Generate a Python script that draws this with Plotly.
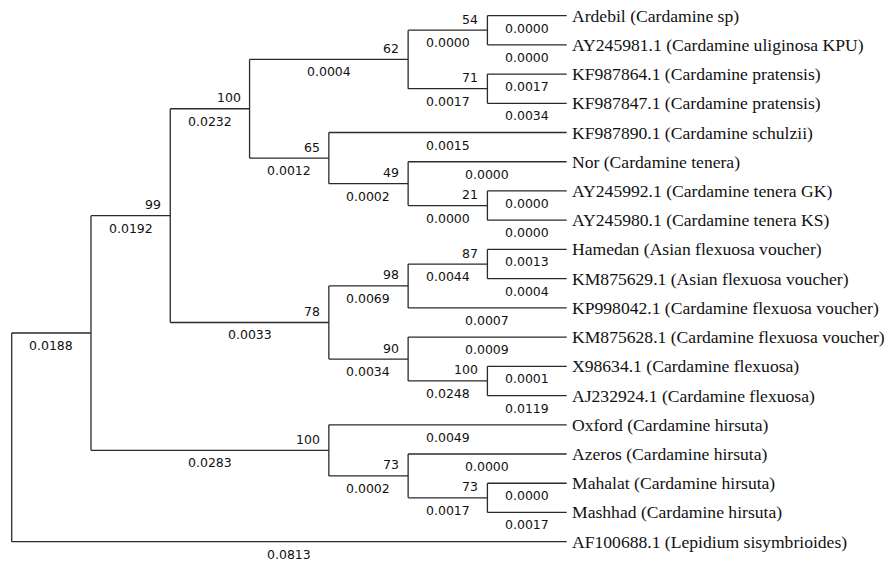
import plotly.graph_objects as go

# ---------------- data ----------------
leaves = [
    "Ardebil (Cardamine sp)",
    "AY245981.1 (Cardamine uliginosa KPU)",
    "KF987864.1 (Cardamine pratensis)",
    "KF987847.1 (Cardamine pratensis)",
    "KF987890.1 (Cardamine schulzii)",
    "Nor (Cardamine tenera)",
    "AY245992.1 (Cardamine tenera GK)",
    "AY245980.1 (Cardamine tenera KS)",
    "Hamedan (Asian flexuosa voucher)",
    "KM875629.1 (Asian flexuosa voucher)",
    "KP998042.1 (Cardamine flexuosa voucher)",
    "KM875628.1 (Cardamine flexuosa voucher)",
    "X98634.1 (Cardamine flexuosa)",
    "AJ232924.1 (Cardamine flexuosa)",
    "Oxford (Cardamine hirsuta)",
    "Azeros (Cardamine hirsuta)",
    "Mahalat (Cardamine hirsuta)",
    "Mashhad (Cardamine hirsuta)",
    "AF100688.1 (Lepidium sisymbrioides)",
]
leaf_lengths = [0.0000, 0.0000, 0.0017, 0.0034, 0.0015, 0.0000, 0.0000, 0.0000,
                0.0013, 0.0004, 0.0007, 0.0009, 0.0001, 0.0119, 0.0049, 0.0000,
                0.0000, 0.0017, 0.0813]

node_ids = ["root", "a", "b", "c", "d", "e", "f", "g", "h", "i",
            "j", "k", "l", "m", "n", "o", "p", "q"]
node_children = [
    ["a", 18], ["b", "o"], ["c", "j"], ["d", "g"], ["e", "f"], [0, 1], [2, 3],
    [4, "h"], [5, "i"], [6, 7], ["k", "m"], ["l", 10], [8, 9], [11, "n"],
    [12, 13], [14, "p"], [15, "q"], [16, 17],
]
node_support = [None, None, 99, 100, 62, 54, 71, 65, 49, 21,
                78, 98, 87, 90, 100, 100, 73, 73]
node_lengths = [None, 0.0188, 0.0192, 0.0232, 0.0004, 0.0000, 0.0017, 0.0012,
                0.0002, 0.0000, 0.0033, 0.0069, 0.0044, 0.0034, 0.0248, 0.0283,
                0.0002, 0.0017]

# ---------------- layout computation ----------------
idx = {n: i for i, n in enumerate(node_ids)}
height = {}
ypos = {}


def h_of(c):
    if isinstance(c, int):
        return 0
    if c in height:
        return height[c]
    height[c] = 1 + max(h_of(k) for k in node_children[idx[c]])
    return height[c]


def y_of(c):
    if isinstance(c, int):
        return float(c)
    if c in ypos:
        return ypos[c]
    ch = node_children[idx[c]]
    ypos[c] = (y_of(ch[0]) + y_of(ch[-1])) / 2.0
    return ypos[c]


H = h_of("root")


def x_of(c):
    return H - h_of(c)


lx, ly = [], []
annotations = []
small = dict(family="DejaVu Sans", size=12.5, color="#111")

for n in node_ids:
    xn, ch = x_of(n), node_children[idx[n]]
    # vertical connector
    lx += [xn, xn, None]
    ly += [y_of(ch[0]), y_of(ch[-1]), None]
    for c in ch:
        xc, yc = x_of(c), y_of(c)
        lx += [xn, xc, None]
        ly += [yc, yc, None]
        length = leaf_lengths[c] if isinstance(c, int) else node_lengths[idx[c]]
        annotations.append(dict(x=(xn + xc) / 2, y=yc, text=f"{length:.4f}",
                                showarrow=False, xanchor="center", yanchor="middle",
                                yshift=-12.5, font=small))
        if not isinstance(c, int) and node_support[idx[c]] is not None:
            annotations.append(dict(x=xc, y=yc, text=str(node_support[idx[c]]),
                                    showarrow=False, xanchor="right", yanchor="middle",
                                    xshift=-7, yshift=11, font=small))

for i, name in enumerate(leaves):
    annotations.append(dict(x=H, y=i, text=name, showarrow=False,
                            xanchor="left", yanchor="middle", xshift=3, yshift=0,
                            font=dict(family="Liberation Serif", size=17.6, color="#111")))

fig = go.Figure()
fig.add_trace(go.Scatter(x=lx, y=ly, mode="lines",
                         line=dict(color="#2a2a2a", width=1.3),
                         hoverinfo="skip", showlegend=False))

step_x = (566.7 - 11.7) / H
step_y = (541.7 - 15.6) / (len(leaves) - 1)
fig.update_layout(
    width=888, height=562, autosize=False,
    margin=dict(l=0, r=0, t=0, b=0),
    paper_bgcolor="white", plot_bgcolor="white",
    xaxis=dict(range=[-11.7 / step_x, (888 - 11.7) / step_x], visible=False, fixedrange=True),
    yaxis=dict(range=[(562 - 15.6) / step_y, -15.6 / step_y], visible=False, fixedrange=True),
    annotations=annotations,
    showlegend=False,
)
fig.write_html("out.html", config={"displayModeBar": False},
               post_script="document.body.style.margin='0';document.body.style.overflow='hidden';")
